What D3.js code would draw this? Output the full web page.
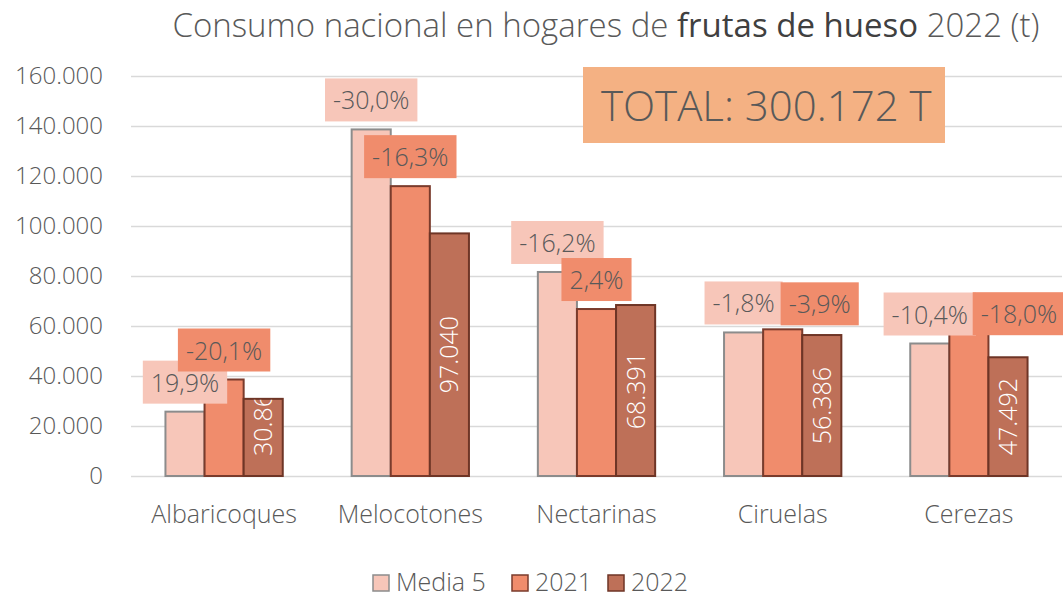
<!DOCTYPE html>
<html>
<head>
<meta charset="utf-8">
<script src="https://cdn.jsdelivr.net/npm/d3@7"></script>
<style>
  body { margin: 0; background: #fff; }
  svg, svg text { font-family: "Open Sans", "Segoe UI", sans-serif; font-weight: 300; }
</style>
</head>
<body>
<div id="chart"></div>
<script>
// data
const categories = ["Albaricoques", "Melocotones", "Nectarinas", "Ciruelas", "Cerezas"];
const seriesNames = ["Media 5", "2021", "2022"];
const media5 = [25740, 138630, 81610, 57420, 53000];
const y2021 = [38600, 115940, 66790, 58670, 57920];
const y2022 = [30860, 97040, 68391, 56386, 47492];
const pctMedia5 = ["19,9%", "-30,0%", "-16,2%", "-1,8%", "-10,4%"];
const pct2021 = ["-20,1%", "-16,3%", "2,4%", "-3,9%", "-18,0%"];
const yTicks = [0, 20000, 40000, 60000, 80000, 100000, 120000, 140000, 160000];
const totalText = "TOTAL: 300.172 T";

const width = 1063, height = 598;
const margin = {top: 76, right: 1, bottom: 120, left: 131};

const fills = ["#F7C6B9", "#F08C6C", "#BE7058"];
const strokes = ["#8c8c8c", "#7a3b2c", "#6e3526"];
const textColor = "#595959";

// hand-moved labels in the original (2021 labels of Ciruelas and Cerezas)
const nudge2021 = [[0, 0], [0, 0], [0, 0], [37, 4], [50, 12]];

const svg = d3.select("#chart").append("svg")
  .attr("width", width)
  .attr("height", height);

const x = d3.scaleBand()
  .domain(categories)
  .range([margin.left, width - margin.right])
  .paddingInner(0.37)
  .paddingOuter(0.185);

const xs = d3.scaleBand()
  .domain(seriesNames)
  .range([0, x.bandwidth()]);

const y = d3.scaleLinear()
  .domain([0, 160000])
  .range([height - margin.bottom - 2, margin.top]);

const fmt = d3.formatLocale({decimal: ",", thousands: ".", grouping: [3], currency: ["", ""]}).format(",");

// title
const title = svg.append("text")
  .attr("x", 606)
  .attr("y", 37)
  .attr("text-anchor", "middle")
  .style("font-size", "33px")
  .style("fill", textColor);
title.append("tspan").text("Consumo nacional en hogares de ");
title.append("tspan").text("frutas de hueso").style("font-weight", 400).style("fill", "#404040");
title.append("tspan").text(" 2022 (t)");

// y axis + grid
const yAxis = d3.axisLeft(y)
  .tickValues(yTicks)
  .tickSize(-(width - margin.right - margin.left))
  .tickFormat(d => fmt(d));

const gy = svg.append("g")
  .attr("transform", `translate(${margin.left},0)`)
  .call(yAxis)
  .attr("font-family", null)
  .attr("font-size", null);
gy.select(".domain").remove();
gy.selectAll(".tick line").attr("stroke", "#d9d9d9").attr("stroke-width", 1.5);
gy.selectAll(".tick text")
  .attr("x", -28)
  .style("font-size", "24px")
  .style("fill", textColor);

// category labels
svg.append("g").selectAll("text")
  .data(categories)
  .join("text")
  .attr("x", d => x(d) + x.bandwidth() / 2)
  .attr("y", 523)
  .attr("text-anchor", "middle")
  .style("font-size", "25px")
  .style("fill", textColor)
  .text(d => d);

// bars
const series = [media5, y2021, y2022];
const barData = [];
categories.forEach((c, i) => {
  seriesNames.forEach((s, j) => {
    barData.push({cat: c, ser: s, j: j, i: i, value: series[j][i]});
  });
});

const defs = svg.append("defs");

svg.append("g").selectAll("rect")
  .data(barData)
  .join("rect")
  .attr("x", d => x(d.cat) + xs(d.ser))
  .attr("width", xs.bandwidth())
  .attr("y", d => y(d.value))
  .attr("height", d => y(0) - y(d.value))
  .attr("fill", d => fills[d.j])
  .attr("stroke", d => strokes[d.j])
  .attr("stroke-width", 2);

// 2022 value labels, rotated inside bar
const inner = barData.filter(d => d.j === 2);
inner.forEach((d, k) => {
  defs.append("clipPath").attr("id", "clip" + k)
    .append("rect")
    .attr("x", x(d.cat) + xs(d.ser))
    .attr("width", xs.bandwidth())
    .attr("y", y(d.value) + 1)
    .attr("height", y(0) - y(d.value));
});
svg.append("g").selectAll("g")
  .data(inner)
  .join("g")
  .attr("clip-path", (d, k) => `url(#clip${k})`)
  .append("text")
  .each(function(d) {
    const cx = x(d.cat) + xs(d.ser) + xs.bandwidth() / 2;
    const h = y(0) - y(d.value);
    const sel = d3.select(this)
      .style("font-size", "25px")
      .style("fill", "#ffffff")
      .text(fmt(d.value));
    const len = this.getComputedTextLength();
    let cy;
    if (len > h - 20) {
      sel.attr("text-anchor", "start");
      cy = y(0) - 20;
    } else {
      sel.attr("text-anchor", "middle");
      cy = (y(0) + y(d.value)) / 2;
    }
    sel.attr("transform", `translate(${cx + 9},${cy}) rotate(-90)`);
  });

// percentage labels above bars
function boxLabel(g, cx, bottom, txt, fill) {
  const t = g.append("text")
    .attr("x", cx)
    .attr("y", bottom - 12)
    .attr("text-anchor", "middle")
    .style("font-size", "25px")
    .style("fill", textColor)
    .text(txt);
  const w = t.node().getComputedTextLength() + 16;
  g.insert("rect", "text")
    .attr("x", cx - w / 2)
    .attr("y", bottom - 43)
    .attr("width", w)
    .attr("height", 43)
    .attr("fill", fill);
}

categories.forEach((c, i) => {
  const g1 = svg.append("g");
  boxLabel(g1, x(c) + xs("Media 5") + xs.bandwidth() / 2, y(media5[i]) - 8, pctMedia5[i], fills[0]);
  const g2 = svg.append("g");
  boxLabel(g2, x(c) + xs("2021") + xs.bandwidth() / 2 + nudge2021[i][0],
    y(y2021[i]) - 8 + nudge2021[i][1], pct2021[i], fills[1]);
});

// total box
svg.append("rect")
  .attr("x", 583).attr("y", 67)
  .attr("width", 362).attr("height", 76)
  .attr("fill", "#F4B183");
svg.append("text")
  .attr("x", 601).attr("y", 121)
  .style("font-size", "42px")
  .style("fill", textColor)
  .text(totalText);

// legend
const legendX = [373, 512, 608];
const lg = svg.append("g").selectAll("g")
  .data(seriesNames)
  .join("g")
  .attr("transform", (d, i) => `translate(${legendX[i]},575)`);
lg.append("rect")
  .attr("width", 16).attr("height", 16)
  .attr("fill", (d, i) => fills[i])
  .attr("stroke", (d, i) => strokes[i])
  .attr("stroke-width", 1.5);
lg.append("text")
  .attr("x", 23).attr("y", 16)
  .style("font-size", "25px")
  .style("fill", textColor)
  .text(d => d);
</script>
</body>
</html>
